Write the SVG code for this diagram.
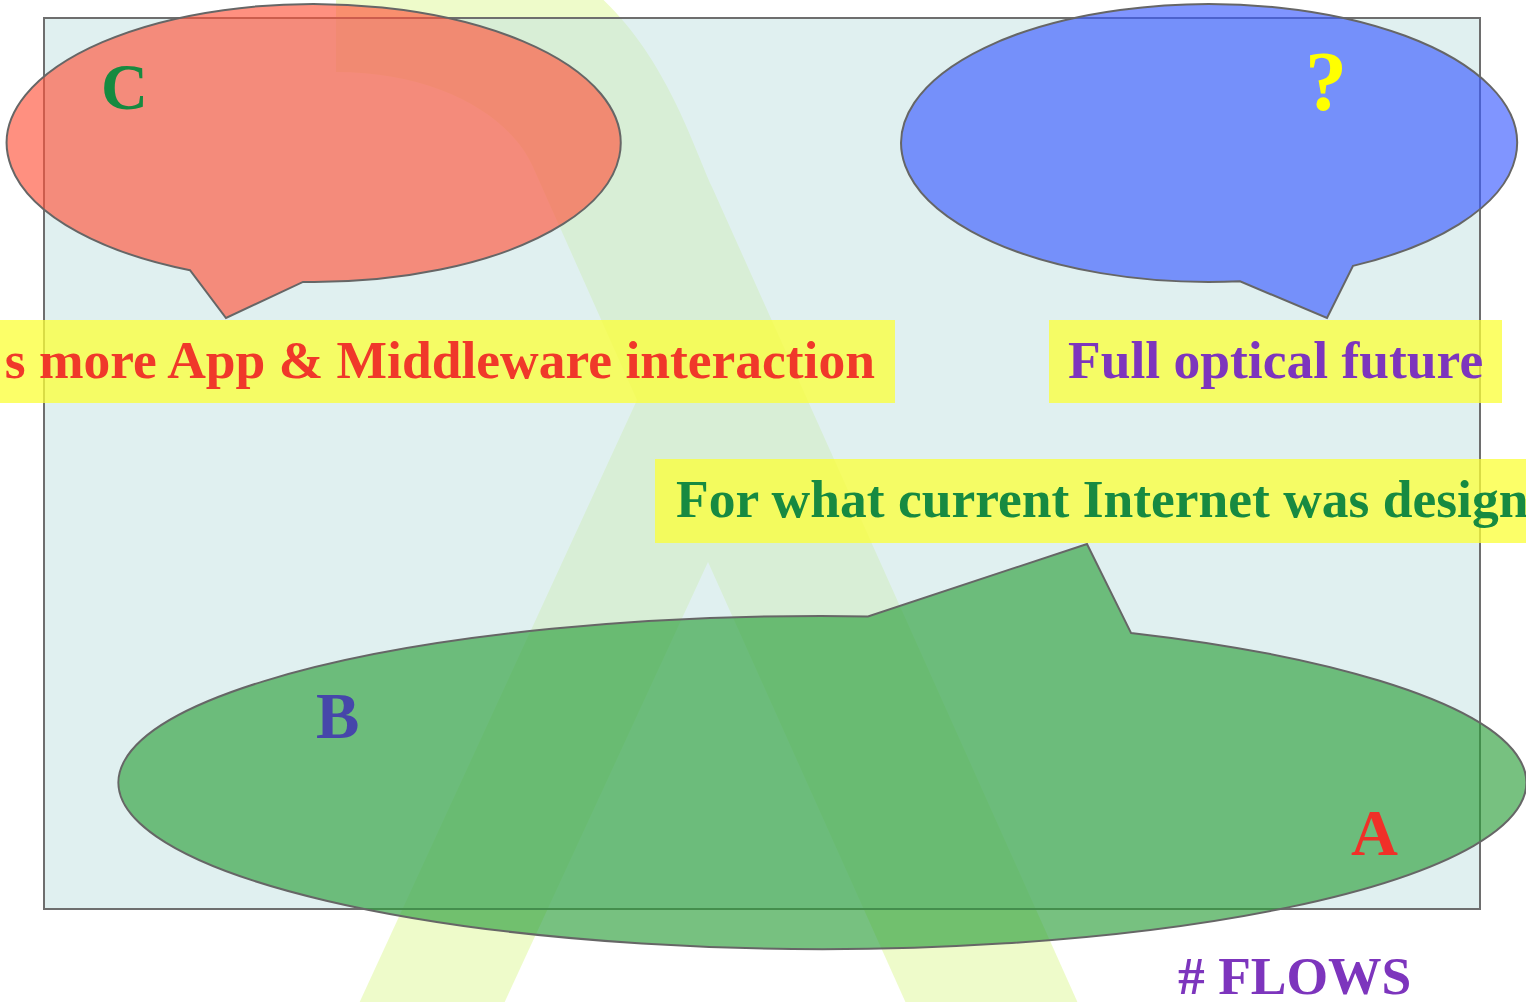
<svg xmlns="http://www.w3.org/2000/svg" width="1526" height="1002" viewBox="0 0 1526 1002">
  <style>
    .lbl { font-family: "Liberation Serif", "Times New Roman", serif; font-weight: bold; }
    .cap { font-size: 53.5px; }
    .bubble { stroke: #666666; stroke-width: 2; stroke-linejoin: miter; }
    .tag { fill: #fbff38; fill-opacity: 0.76; }
  </style>
  <rect width="1526" height="1002" fill="#ffffff"/>

  <!-- broad lambda-shaped band behind the frame -->
  <g id="band">
    <path d="M 336,-150 L 336,72 C 440,72 511,117 533,167 L 637,400 L 356,1010 L 501,1010 L 708,562 L 909,1010 L 1081,1010 L 712,187 C 690,138 660,40 580,-20 L 500,-150 Z"
          fill="#d4f57a" fill-opacity="0.4"/>
  </g>

  <!-- frame -->
  <g id="frame">
    <rect x="44" y="18" width="1436" height="891" fill="#c2e2e2" fill-opacity="0.5" stroke="#6e6e6e" stroke-width="2"/>
  </g>

  <!-- speech bubbles -->
  <g id="bubble-c">
    <path class="bubble" d="M 303,281.9 A 307 139 0 1 0 190,270.2 L 226,318 Z" fill="#ff553c" fill-opacity="0.65"/>
    <text class="lbl" x="101" y="109" font-size="65" fill="#168a40">C</text>
  </g>

  <g id="bubble-q">
    <path class="bubble" d="M 1353,265.9 A 308 139 0 1 0 1240,281.3 L 1327,318 Z" fill="#3c5cff" fill-opacity="0.65"/>
    <text class="lbl" x="1305" y="110" font-size="84" fill="#ffff00">?</text>
  </g>

  <g id="bubble-ab">
    <path class="bubble" d="M 868,616.4 A 704 166.5 0 1 0 1131,632.9 L 1087,544 Z" fill="#2ea03c" fill-opacity="0.65"/>
    <text class="lbl" x="316" y="738" font-size="65" fill="#4646aa">B</text>
    <text class="lbl" x="1351" y="855" font-size="65" fill="#f03028">A</text>
  </g>

  <!-- caption tags -->
  <g id="tag-middleware">
    <rect class="tag" x="-10" y="320" width="905" height="83"/>
    <text class="lbl cap" x="875" y="378" fill="#f0382a" text-anchor="end">s more App &amp; Middleware interaction</text>
  </g>

  <g id="tag-optical">
    <rect class="tag" x="1049" y="320" width="453" height="83"/>
    <text class="lbl cap" x="1068" y="378" fill="#7d35bd">Full optical future</text>
  </g>

  <g id="tag-internet">
    <rect class="tag" x="655" y="459" width="890" height="84"/>
    <text class="lbl cap" x="676" y="517" fill="#178a41">For what current Internet was design</text>
  </g>

  <g id="axis-flows">
    <text class="lbl cap" x="1178" y="994" fill="#7d35bd"># FLOWS</text>
  </g>

  <g id="connectors"/>
</svg>
